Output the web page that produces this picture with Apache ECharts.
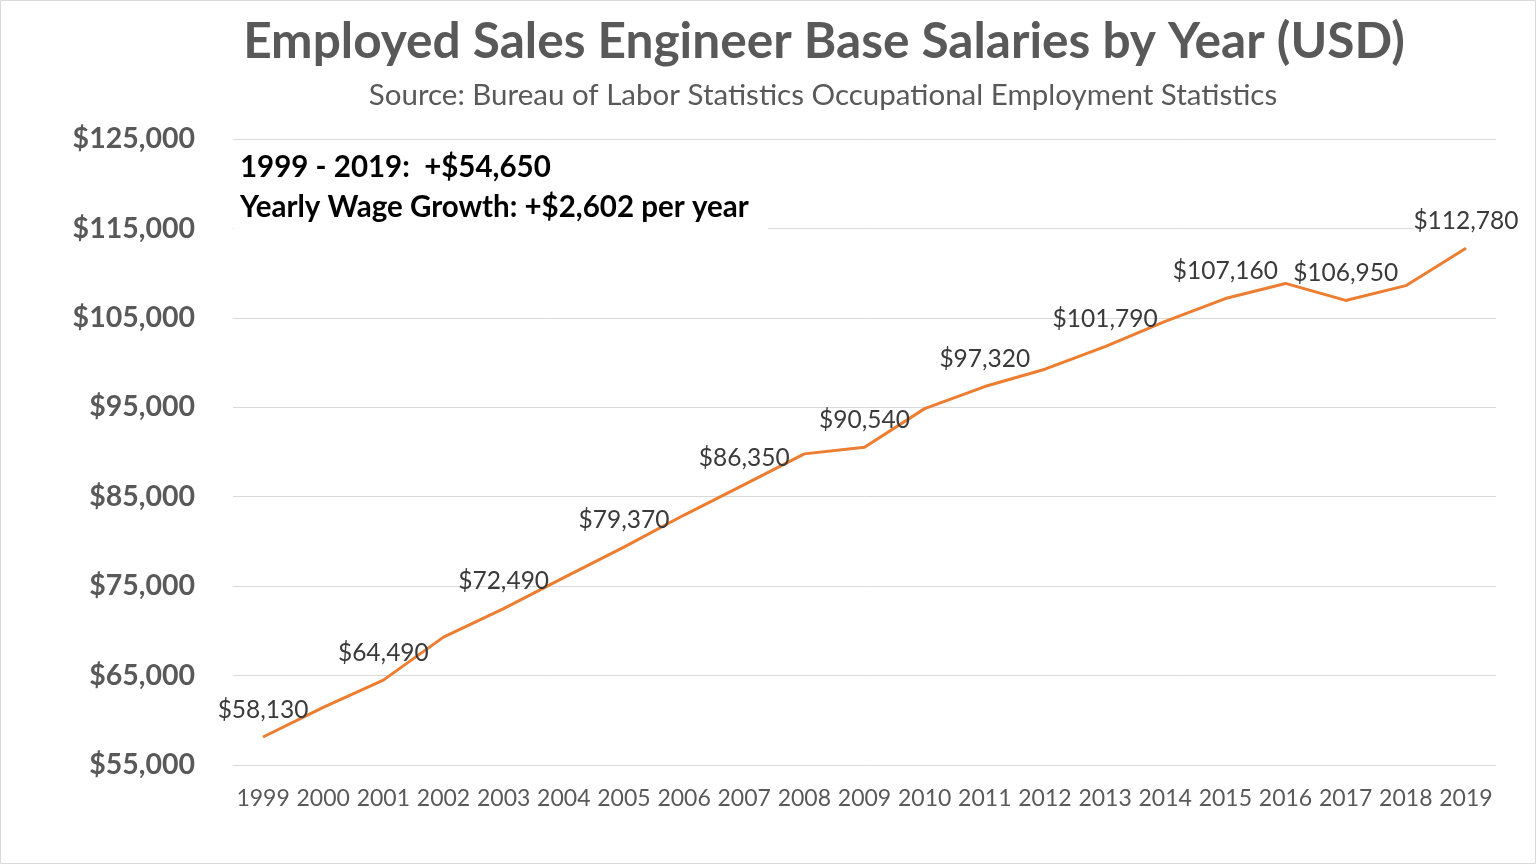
<!DOCTYPE html>
<html>
<head>
<meta charset="utf-8">
<script src="https://cdn.jsdelivr.net/npm/echarts@6/dist/echarts.min.js"></script>
<style>
	html, body { margin: 0; padding: 0; background: #fff; }
	#salary_chart { width: 1537px; height: 865px; }
</style>
</head>
<body>
<div id="salary_chart"></div>
<script>
	// years on the x axis
	var years = ['1999', '2000', '2001', '2002', '2003', '2004', '2005', '2006', '2007', '2008', '2009',
		'2010', '2011', '2012', '2013', '2014', '2015', '2016', '2017', '2018', '2019']
	// base salary per year (USD), unlabeled years
	var salaries = [58130, 61450, 64490, 69300, 72490, 75950, 79370, 82950, 86350, 89790, 90540,
		94850, 97320, 99260, 101790, 104600, 107160, 108850, 106950, 108600, 112780]
	// years that carry a data label
	var labeledYears = ['1999', '2001', '2003', '2005', '2007', '2009', '2011', '2013', '2015', '2017', '2019']
	var yTicks = [55000, 65000, 75000, 85000, 95000, 105000, 115000, 125000]
	var notes = ['1999 - 2019:  +$54,650', 'Yearly Wage Growth: +$2,602 per year']

	var font = 'Lato, "Open Sans", sans-serif'
	var lineColor = '#ED7D31'

	function money(v){
		return '$' + v.toLocaleString('en-US')
	}

	var salaryChart = echarts.init(document.getElementById('salary_chart'))

	var option = {
		animation: false,
		textStyle: { fontFamily: font },
		title: [
			{
				text: 'Employed Sales Engineer Base Salaries by Year (USD)',
				left: 819,
				top: 12,
				textAlign: 'center',
				textStyle: { fontFamily: font, fontSize: 49.6, fontWeight: 'bold', color: '#595959' }
			},
			{
				text: 'Source: Bureau of Labor Statistics Occupational Employment Statistics',
				left: 818,
				top: 75,
				textAlign: 'center',
				textStyle: { fontFamily: font, fontSize: 29.5, fontWeight: 'normal', color: '#595959' }
			}
		],
		grid: {
			left: 233,
			right: 41,
			top: 139,
			bottom: 100
		},
		xAxis: {
			type: 'category',
			data: years,
			boundaryGap: true,
			axisLine: { show: false },
			axisTick: { show: false },
			axisLabel: {
				interval: 0,
				margin: 22,
				fontFamily: font,
				fontSize: 23,
				color: '#595959'
			}
		},
		yAxis: {
			type: 'value',
			min: yTicks[0],
			max: yTicks[yTicks.length - 1],
			interval: 10000,
			axisLine: { show: false },
			axisTick: { show: false },
			axisLabel: {
				margin: 38,
				fontFamily: font,
				fontSize: 28.5,
				fontWeight: 'bold',
				color: '#595959',
				formatter: money
			},
			splitLine: { lineStyle: { color: '#d9d9d9', width: 1 } }
		},
		series: [
			{
				type: 'line',
				data: salaries.map(function(v, i){
					var item = { value: v }
					if (labeledYears.indexOf(years[i]) != -1) {
						item.label = { show: true }
						if (i == salaries.length - 1) {
							item.label.backgroundColor = '#fff'
						}
					}
					return item
				}),
				symbol: 'circle',
				symbolSize: 1,
				showSymbol: true,
				itemStyle: { color: lineColor },
				lineStyle: { color: lineColor, width: 3 },
				label: {
					show: false,
					position: 'top',
					distance: 14,
					fontFamily: font,
					fontSize: 24.5,
					color: '#3a3a3a',
					formatter: function(p){ return money(p.value) }
				},
				z: 3
			}
		],
		graphic: [
			{
				type: 'rect',
				shape: { x: 0.5, y: 0.5, width: 1535, height: 863 },
				style: { fill: 'none', stroke: '#d9d9d9', lineWidth: 1 },
				z: 100
			},
			{
				type: 'rect',
				shape: { x: 234, y: 145, width: 534, height: 88 },
				style: { fill: '#fff' },
				z: 50
			},
			{
				type: 'text',
				left: 240,
				top: 152,
				style: { text: notes[0], fontFamily: font, fontSize: 29.5, fontWeight: 'bold', fill: '#000' },
				z: 51
			},
			{
				type: 'text',
				left: 240,
				top: 192,
				style: { text: notes[1], fontFamily: font, fontSize: 29.5, fontWeight: 'bold', fill: '#000' },
				z: 51
			}
		]
	}

	salaryChart.setOption(option)
</script>
</body>
</html>
